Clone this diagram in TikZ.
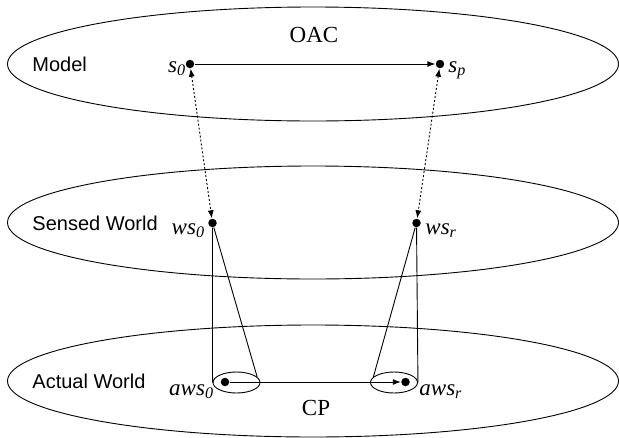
\documentclass[tikz,border=0pt]{standalone}
\usepackage{fontspec}
\setmainfont{Liberation Serif}
\setsansfont{Liberation Sans}
\usetikzlibrary{arrows.meta,positioning,shapes.geometric}

\newcommand{\lab}[2]{\textit{#1}\textsubscript{\textit{#2}}}

\begin{document}
\begin{tikzpicture}[
  x=1pt, y=-1pt, line width=0.9pt,
  font=\fontsize{23}{26}\selectfont,
  dot/.style={circle, fill, inner sep=0pt, minimum size=8.5pt},
  lbl/.style={inner sep=0pt},
  area/.style={font=\sffamily\fontsize{20}{24}\selectfont, anchor=west, inner sep=0pt},
  ring/.style={draw, ellipse, minimum width=47pt, minimum height=21pt, inner sep=0pt},
  arr/.style={-{Latex[length=8pt,width=6pt]}},
  sense/.style={{Latex[length=8pt,width=6pt]}-{Latex[length=8pt,width=6pt]}, dash pattern=on 2pt off 2pt}
]
\useasboundingbox (0,0) rectangle (619,437);

% the three worlds
\draw (313,64) ellipse (305.5pt and 57pt);
\draw (313,222.5) ellipse (305.5pt and 56.5pt);
\draw (313,381) ellipse (305.5pt and 56pt);

\node[area] (model) at (32,64) {Model};
\node[area] (sensed) at (32,223) {Sensed World};
\node[area] (actual) at (32,381) {Actual World};
\node (oac) at (314,35) {OAC};
\node (cp) at (316,408) {CP};

% states
\node[dot] (s0) at (190,64) {};
\node[dot] (sp) at (440,64) {};
\node[dot] (ws0) at (212.5,223) {};
\node[dot] (wsr) at (416.5,223) {};
\node[dot] (aws0) at (225,382) {};
\node[dot] (awsr) at (405.5,382) {};
\node[ring] (a0ring) at (236.5,382.5) {};
\node[ring] (arring) at (394,382.5) {};

\node[lbl, anchor=base east] (s0lab) at (186,72) {\lab{s}{0}};
\node[lbl, anchor=base west] (splab) at (448,72) {\lab{s}{p}};
\node[lbl, anchor=base east] (ws0lab) at (205,234) {\lab{ws}{0}};
\node[lbl, anchor=base west] (wsrlab) at (425,234) {\lab{ws}{r}};
\node[lbl, anchor=base east] (aws0lab) at (214,395) {\lab{aws}{0}};
\node[lbl, anchor=base west] (awsrlab) at (419,395) {\lab{aws}{r}};

\draw[arr] (s0) -- (sp);
\draw[arr] (aws0) -- (awsr);
\draw[sense] (s0) -- (ws0);
\draw[sense] (sp) -- (wsr);
\draw (ws0) -- (a0ring.west);
\draw (ws0) -- (a0ring.15);
\draw (wsr) -- (arring.east);
\draw (wsr) -- (arring.165);
\end{tikzpicture}
\end{document}
